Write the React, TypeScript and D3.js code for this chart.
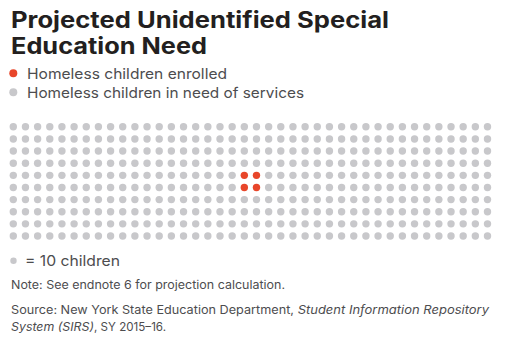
import * as d3 from 'd3';
import { FC, useEffect, useRef } from 'react';

// each dot stands for 10 children
const categories = ['Homeless children enrolled', 'Homeless children in need of services'];
const counts = [40, 3960];
const colors = ['#e8462a', '#c8c8cb'];
const perDot = 10;
const gridCols = 40;
const gridRows = 10;
// grid cells (col, row) where the enrolled dots sit
const enrolledCells: [number, number][] = [
  [19, 4],
  [20, 4],
  [19, 5],
  [20, 5],
];

const titleLines = ['Projected Unidentified Special', 'Education Need'];
const titleWidths = [378, 196];
const legendWidths = [200, 277];
const unitLabel = '= 10 children';
const noteText = 'Note: See endnote 6 for projection calculation.';

const width = 505;
const height = 353;
const font = "Inter, 'Noto Sans', sans-serif";

interface ICell {
  col: number;
  row: number;
  cat: number;
}

const DotChart: FC = () => {
  const ref = useRef<SVGSVGElement>(null);

  useEffect(() => {
    drawChart();
  }, []);

  const drawChart = () => {
    const svg = d3.select(ref.current);
    svg.selectAll('*').remove();

    // title
    svg
      .append('g')
      .selectAll('text')
      .data(titleLines)
      .join('text')
      .attr('x', 11)
      .attr('y', (_, i) => 27.5 + i * 26)
      .attr('font-family', font)
      .attr('font-size', 22.5)
      .attr('font-weight', 700)
      .attr('fill', '#231f20')
      .attr('textLength', (_, i) => titleWidths[i])
      .attr('lengthAdjust', 'spacingAndGlyphs')
      .text((d) => d);

    // legend
    const legend = svg
      .append('g')
      .selectAll('g')
      .data(categories)
      .join('g')
      .attr('transform', (_, i) => `translate(0,${73.3 + i * 19})`);
    legend
      .append('circle')
      .attr('cx', 13.3)
      .attr('r', 4)
      .attr('fill', (_, i) => colors[i]);
    legend
      .append('text')
      .attr('x', 27)
      .attr('y', 5.5)
      .attr('font-family', font)
      .attr('font-size', 14.5)
      .attr('fill', '#4d4d4f')
      .attr('textLength', (_, i) => legendWidths[i])
      .attr('lengthAdjust', 'spacingAndGlyphs')
      .text((d) => d);

    // dot grid
    const total = d3.sum(counts) / perDot;
    const enrolledDots = counts[0] / perDot;
    const cells: ICell[] = [];
    for (let r = 0; r < gridRows; r++) {
      for (let c = 0; c < gridCols; c++) {
        cells.push({ col: c, row: r, cat: 1 });
      }
    }
    enrolledCells.slice(0, enrolledDots).forEach(([c, r]) => {
      cells[r * gridCols + c].cat = 0;
    });

    const x = d3.scaleLinear().domain([0, gridCols - 1]).range([13.3, 487.5]);
    const y = d3.scaleLinear().domain([0, gridRows - 1]).range([126.8, 236]);

    svg
      .append('g')
      .selectAll('circle')
      .data(cells.slice(0, total))
      .join('circle')
      .attr('cx', (d) => x(d.col))
      .attr('cy', (d) => y(d.row))
      .attr('r', 3.7)
      .attr('fill', (d) => colors[d.cat]);

    // unit key
    svg
      .append('circle')
      .attr('cx', 13.5)
      .attr('cy', 260.7)
      .attr('r', 3.2)
      .attr('fill', colors[1]);
    svg
      .append('text')
      .attr('x', 25)
      .attr('y', 266)
      .attr('font-family', font)
      .attr('font-size', 14.5)
      .attr('fill', '#4d4d4f')
      .attr('textLength', 95)
      .attr('lengthAdjust', 'spacingAndGlyphs')
      .text(unitLabel);

    // note + source
    svg
      .append('text')
      .attr('x', 11)
      .attr('y', 289.3)
      .attr('font-family', font)
      .attr('font-size', 11.5)
      .attr('fill', '#4d4d4f')
      .attr('textLength', 274)
      .attr('lengthAdjust', 'spacingAndGlyphs')
      .text(noteText);

    const srcLine = (y0: number, parts: [string, boolean, number][]) => {
      const t = svg
        .append('text')
        .attr('y', y0)
        .attr('font-family', font)
        .attr('font-size', 11.5)
        .attr('fill', '#4d4d4f');
      let xPos = 11;
      parts.forEach(([s, italic, w]) => {
        t.append('tspan')
          .attr('x', xPos)
          .attr('font-style', italic ? 'italic' : 'normal')
          .attr('textLength', w)
          .attr('lengthAdjust', 'spacingAndGlyphs')
          .text(s);
        xPos += w;
      });
    };
    srcLine(314, [
      ['Source: New York State Education Department,', false, 283],
      [' Student Information Repository', true, 195],
    ]);
    srcLine(331, [
      ['System (SIRS)', true, 83],
      [', SY 2015–16.', false, 72],
    ]);
  };

  return <svg ref={ref} width={width} height={height} style={{ display: 'block' }} />;
};

export default function App() {
  return (
    <div style={{ position: 'absolute', left: 0, top: 0 }}>
      <DotChart />
    </div>
  );
}
